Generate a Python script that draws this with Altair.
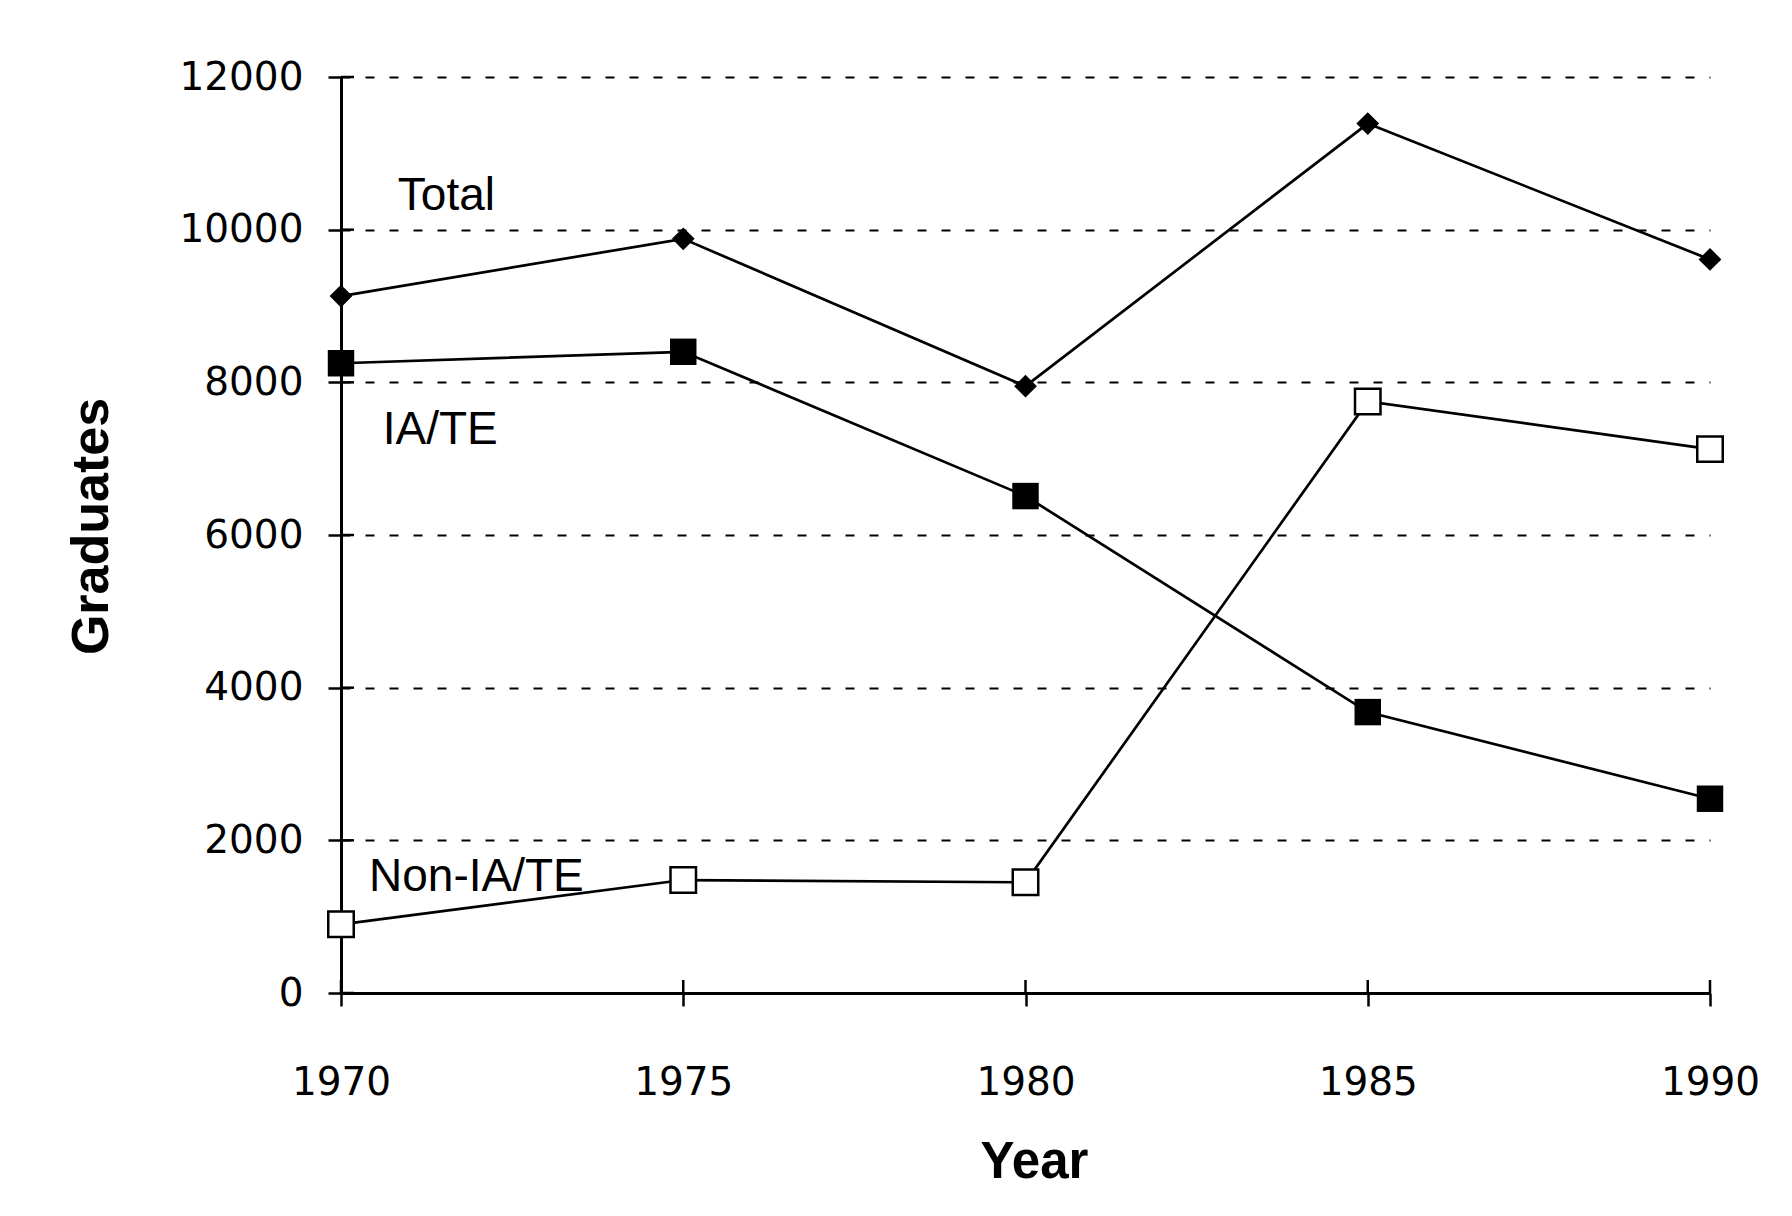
import altair as alt
import pandas as pd

years = [1970, 1975, 1980, 1985, 1990]
total = [9130, 9880, 7950, 11390, 9610]
iate = [8250, 8400, 6510, 3680, 2545]
non_iate = [900, 1480, 1450, 7750, 7125]
y_ticks = [0, 2000, 4000, 6000, 8000, 10000, 12000]

label_text = ["Total", "IA/TE", "Non-IA/TE"]
label_year = [1970.83, 1970.61, 1970.41]
label_value = [10440, 7375, 1520]

rows = []
for s, vals in [("Total", total), ("IA/TE", iate), ("Non-IA/TE", non_iate)]:
    for yr, v in zip(years, vals):
        rows.append({"year": yr, "series": s, "value": v})
df = pd.DataFrame(rows)

labels_df = pd.DataFrame({"year": label_year, "value": label_value, "text": label_text})
ytick_df = pd.DataFrame({"value": y_ticks})
xtick_df = pd.DataFrame({"year": years})

FONT = "Liberation Sans"
TICKFONT = "DejaVu Sans"
W, H = 1369, 916

xscale = alt.Scale(domain=[1970, 1990], nice=False, zero=False)
yscale = alt.Scale(domain=[0, 12000], nice=False)

xaxis = alt.Axis(
    values=years, format="d", grid=False, title="Year", labelFlush=False,
    domainColor="black", domainWidth=3, tickColor="black", tickWidth=2.5, tickSize=13,
    labelFont=TICKFONT, labelFontSize=39, labelColor="black", labelPadding=57,
    titleFont=FONT, titleFontSize=51, titleFontWeight="bold", titleColor="black",
    titleX=693, titleY=169, titleBaseline="middle", titleAlign="center",
)
yaxis = alt.Axis(
    values=y_ticks, format="d", grid=True, gridColor="black", gridDash=[9, 15], gridWidth=2,
    title="Graduates", labelFlush=False,
    domainColor="black", domainWidth=3, tickColor="black", tickWidth=2.5, tickSize=13,
    labelFont=TICKFONT, labelFontSize=39, labelColor="black", labelPadding=25,
    titleFont=FONT, titleFontSize=52, titleFontWeight="bold", titleColor="black",
    titleX=-250, titleY=449, titleAngle=-90, titleBaseline="middle", titleAlign="center",
)

X = alt.X("year:Q", scale=xscale, axis=xaxis)
Y = alt.Y("value:Q", scale=yscale, axis=yaxis)

base = alt.Chart(df)

lines = base.mark_line(color="black", strokeWidth=2.7).encode(
    x=X, y=Y, detail="series:N"
)

diamonds = base.transform_filter(alt.datum.series == "Total").mark_point(
    shape="diamond", filled=True, color="black", size=520, opacity=1
).encode(x=X, y=Y)

filled_sq = base.transform_filter(alt.datum.series == "IA/TE").mark_point(
    shape="square", filled=True, color="black", size=700, opacity=1
).encode(x=X, y=Y)

open_sq = base.transform_filter(alt.datum.series == "Non-IA/TE").mark_point(
    shape="square", filled=True, fill="white", stroke="black", strokeWidth=2.5,
    size=650, opacity=1
).encode(x=X, y=Y)

texts = alt.Chart(labels_df).mark_text(
    font=FONT, fontSize=46, color="black", align="left", baseline="middle"
).encode(x=X, y=Y, text="text:N")

ytick_in = alt.Chart(ytick_df).mark_rule(color="black", strokeWidth=2.5).encode(
    y=Y, x=alt.value(0), x2=alt.value(13)
)
xtick_in = alt.Chart(xtick_df).mark_rule(color="black", strokeWidth=2.5).encode(
    x=X, y=alt.value(H - 13), y2=alt.value(H)
)

chart = alt.layer(lines, ytick_in, xtick_in, diamonds, filled_sq, open_sq, texts).properties(
    width=W, height=H,
    padding={"left": 333, "top": 69, "right": 74, "bottom": 215},
    autosize=alt.AutoSizeParams(type="none"),
    background="white",
).configure_view(stroke=None, strokeWidth=0)

chart.save("out.html", embed_options={"renderer": "svg", "actions": False})
